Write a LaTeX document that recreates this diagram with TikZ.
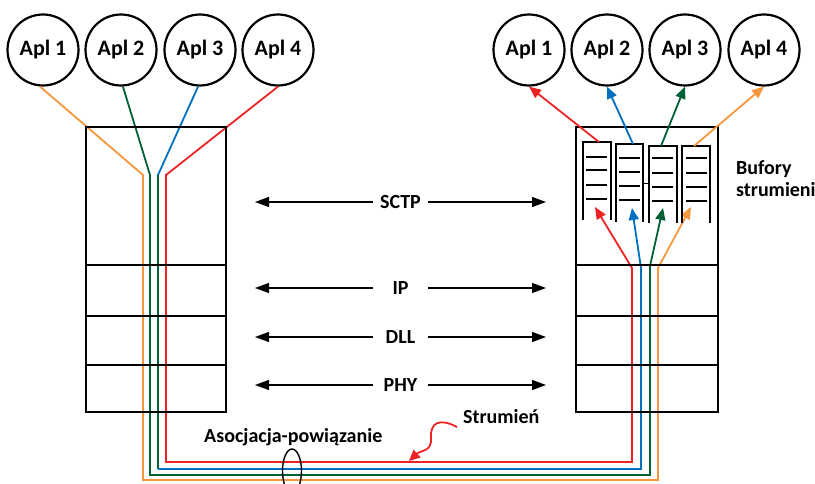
\documentclass[tikz,border=0pt]{standalone}
\usepackage{fontspec}
\setmainfont{Carlito}
\usetikzlibrary{arrows.meta,shapes.geometric}
\definecolor{cred}{RGB}{237,34,36}
\definecolor{cblue}{RGB}{0,112,192}
\definecolor{cgreen}{RGB}{0,97,55}
\definecolor{corange}{RGB}{247,150,60}
\begin{document}
\begin{tikzpicture}[x=1pt,y=-1pt,
  apl/.style={circle,draw,line width=2.2pt,minimum size=71pt,inner sep=0pt,font=\fontsize{22}{26}\selectfont\bfseries},
  layerbox/.style={draw,line width=2pt,inner sep=0pt,outer sep=0pt,anchor=north west},
  stream/.style={line width=1.8pt},
  tipc/.style={-{Triangle[length=12pt,width=10pt]}},
  lbl/.style={font=\fontsize{20}{23}\selectfont\bfseries,inner sep=0pt},
  proto/.style={lbl,minimum width=55pt},
  peer/.style={line width=1.1pt,-{Triangle[length=14pt,width=10pt]}},
  buf/.style={line width=2.2pt},
  bar/.style={line width=2pt}]
\path[use as bounding box,clip] (0,0) rectangle (815,484);

% application circles
\node[apl] (lA1) at (43,50) {Apl 1};
\node[apl] (lA2) at (121,50) {Apl 2};
\node[apl] (lA3) at (200,50) {Apl 3};
\node[apl] (lA4) at (278,50) {Apl 4};
\node[apl] (rA1) at (529,50) {Apl 1};
\node[apl] (rA2) at (607,50) {Apl 2};
\node[apl] (rA3) at (685,50) {Apl 3};
\node[apl] (rA4) at (764,50) {Apl 4};

% bend coordinates of the streams
\coordinate (o1) at (143,175); \coordinate (o2) at (143,480);
\coordinate (o3) at (658,480); \coordinate (o4) at (658,268); \coordinate (o5) at (691,207);
\coordinate (g1) at (150,175); \coordinate (g2) at (150,475);
\coordinate (g3) at (650,475); \coordinate (g4) at (650,266); \coordinate (g5) at (663,208);
\coordinate (b1) at (158,175); \coordinate (b2) at (158,469);
\coordinate (b3) at (641,469); \coordinate (b4) at (641,268); \coordinate (b5) at (632,208);
\coordinate (r1) at (166,175); \coordinate (r2) at (166,462);
\coordinate (r3) at (632,462); \coordinate (r4) at (632,268); \coordinate (r5) at (595,207);

% streams
\draw[stream,corange,tipc] (lA1.265) -- (o1) -- (o2) -- (o3) -- (o4) -- (o5);
\draw[stream,cgreen,tipc] (lA2.273) -- (g1) -- (g2) -- (g3) -- (g4) -- (g5);
\draw[stream,cblue] (lA3.267) -- (b1);
\draw[stream,cgreen] (b1) -- (b2);
\draw[stream,cblue,tipc] (b2) -- (b3) -- (b4) -- (b5);
\draw[stream,cred,tipc] (lA4.270) -- (r1) -- (r2) -- (r3) -- (r4) -- (r5);

% protocol stacks
\node[layerbox,minimum width=140pt,minimum height=138pt] (lS) at (86,127) {};
\node[layerbox,minimum width=140pt,minimum height=51pt] (lI) at (86,265) {};
\node[layerbox,minimum width=140pt,minimum height=49pt] (lD) at (86,316) {};
\node[layerbox,minimum width=140pt,minimum height=47pt] (lP) at (86,365) {};
\node[layerbox,minimum width=142pt,minimum height=138pt] (rS) at (576,127) {};
\node[layerbox,minimum width=142pt,minimum height=51pt] (rI) at (576,265) {};
\node[layerbox,minimum width=142pt,minimum height=49pt] (rD) at (576,316) {};
\node[layerbox,minimum width=142pt,minimum height=47pt] (rP) at (576,365) {};

% stream buffers
\draw[buf] (583,220) -- (583,142) -- (611,142) -- (611,220);
\draw[buf] (616,222) -- (616,144) -- (643,144) -- (643,222);
\draw[buf] (649,223) -- (649,146) -- (677,146) -- (677,223);
\draw[buf] (682,223) -- (682,146) -- (710,146) -- (710,223);
\foreach \y in {157,170,185,199} \draw[bar] (586,\y) -- (607,\y);
\foreach \y in {158,172,186,200} \draw[bar] (619,\y) -- (640,\y);
\foreach \y in {158,173,187,201} \draw[bar] (652,\y) -- (673,\y);
\foreach \y in {158,173,187,201} \draw[bar] (686,\y) -- (707,\y);
\draw[line width=0.8pt] (643,183) -- (649,183);

% buffer outputs to applications
\coordinate (q1) at (599,142);
\coordinate (q2) at (633,144);
\coordinate (q3) at (661,146);
\coordinate (q4) at (694,146);
\draw[stream,cred,tipc] (q1) -- (rA1.south);
\draw[stream,cblue,tipc] (q2) -- (rA2.south);
\draw[stream,cgreen,tipc] (q3) -- (rA3.south);
\draw[stream,corange,tipc] (q4) -- (rA4.south);

% peer protocol arrows
\node[proto] (sctp) at (400.5,202) {SCTP};
\node[proto] (ip) at (400.5,288) {IP};
\node[proto] (dll) at (400.5,337) {DLL};
\node[proto] (phy) at (400.5,385) {PHY};
\foreach \n/\y in {sctp/202,ip/288,dll/337,phy/385}{
  \coordinate (\n L) at (255,\y);
  \coordinate (\n R) at (546,\y);
  \draw[peer] (\n.west) -- (\n L);
  \draw[peer] (\n.east) -- (\n R);
}

% labels
\node[lbl,align=left,anchor=base west] (bufl) at (736,197) {Bufory\\strumieni};
\node[lbl,anchor=base west] (asoc) at (204,442) {Asocjacja-powiązanie};
\node[lbl,anchor=base west] (strl) at (463,423) {Strumień};

% association ellipse
\node[draw,ellipse,line width=1.4pt,minimum width=19pt,minimum height=44pt,inner sep=0pt] (assoc) at (292,471) {};

% stream pointer
\coordinate (sq0) at (457,427);
\coordinate (sq1) at (409,461);
\draw[stream,cred,-{Triangle[length=11pt,width=10pt]}] (sq0) .. controls (440,418) and (430,422) .. (431,438) .. controls (432,452) and (421,450) .. (sq1);
\end{tikzpicture}
\end{document}
